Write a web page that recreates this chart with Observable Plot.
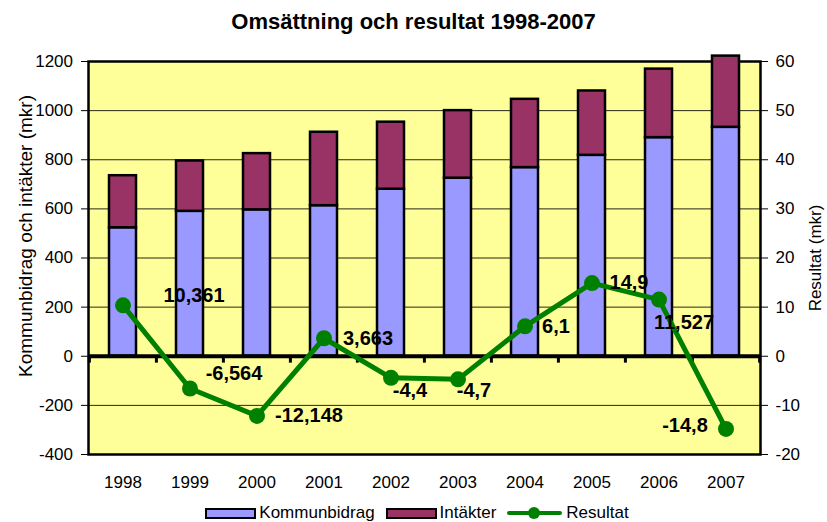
<!DOCTYPE html>
<html><head><meta charset="utf-8">
<script src="https://cdn.jsdelivr.net/npm/d3@7"></script>
<script src="https://cdn.jsdelivr.net/npm/@observablehq/plot@0.6"></script>
<style>
body{margin:0;background:#fff;font-family:"Liberation Sans",Arial,sans-serif;color:#000;}
#title{width:827px;height:44px;line-height:44px;text-align:center;font-weight:bold;font-size:22px;}
#chart{width:827px;height:446px;}
#legend{width:827px;box-sizing:border-box;padding-left:18px;display:flex;justify-content:center;align-items:center;height:24px;margin-top:11px;font-size:17px;}
.item{display:flex;align-items:center;margin-right:11px;}
.sw{width:47px;height:7px;border:2.5px solid #000;margin-right:3px;}
.ln{position:relative;width:55px;height:12px;margin-right:4px;}
.ln:before{content:"";position:absolute;left:0;right:0;top:4px;height:4px;background:#008000;border-radius:2px;}
.ln:after{content:"";position:absolute;left:21px;top:0;width:12px;height:12px;border-radius:50%;background:#008000;}
</style></head><body>
<div id="title">Omsättning och resultat 1998-2007</div>
<div id="chart"></div>
<div id="legend"></div>
<script>
// ---- data ----
const years = ["1998","1999","2000","2001","2002","2003","2004","2005","2006","2007"];
const kommunbidrag = [523, 590, 596, 613, 680, 725, 768, 818, 890, 932];
const intakter = [212, 205, 229, 299, 273, 275, 278, 262, 279, 290];
const resultat = [10.361, -6.564, -12.148, 3.663, -4.4, -4.7, 6.1, 14.9, 11.527, -14.8];
const leftTicks = [-400, -200, 0, 200, 400, 600, 800, 1000, 1200];
const rightTicks = [-20, -10, 0, 10, 20, 30, 40, 50, 60];
const seriesNames = ["Kommunbidrag", "Intäkter", "Resultat"];
const leftLabel = "Kommunbidrag och intäkter (mkr)";
const rightLabel = "Resultat (mkr)";

// ---- styling ----
const colors = ["#9999FF", "#993366", "#008000"];
const labelNudge = [[71,-10],[44,-15],[52,0],[44,0],[19,13],[16,11],[31,0],[37,0],[25,23],[-41,-3]];

const ratio = leftTicks[leftTicks.length-1] / rightTicks[rightTicks.length-1];
const fmt = v => String(v).replace(".", ",");

const bars = years.flatMap((year, i) => [
  {year, series: seriesNames[0], value: kommunbidrag[i]},
  {year, series: seriesNames[1], value: intakter[i]}
]);
const res = years.map((year, i) => ({year, r: resultat[i]}));

const W = 827, H = 446, mL = 88, mR = 67, mT = 17, mB = 36;
const step = (W - mL - mR) / years.length;

const chart = Plot.plot({
  width: W, height: H,
  marginLeft: mL, marginRight: mR, marginTop: mT, marginBottom: mB,
  style: {fontFamily: "Liberation Sans, Arial, sans-serif", fontSize: "17px", color: "#000", background: "transparent", overflow: "visible"},
  x: {domain: years, paddingInner: 0.6, paddingOuter: 0.3, label: null},
  y: {domain: [leftTicks[0], leftTicks[leftTicks.length-1]], label: null},
  color: {domain: seriesNames.slice(0,2), range: colors.slice(0,2)},
  marks: [
    Plot.frame({fill: "#FFFF99", stroke: null}),
    Plot.ruleY(leftTicks.filter(d => d !== 0), {stroke: "#000", strokeWidth: 1, strokeOpacity: 0.85}),
    Plot.frame({stroke: "#000", strokeWidth: 2.5}),
    Plot.axisY(leftTicks, {anchor: "left", tickSize: 7, tickPadding: 8.5, tickFormat: d => String(d), label: null, fontSize: 17}),
    Plot.axisY(rightTicks.map(v => v * ratio), {anchor: "right", tickSize: 7, tickPadding: 8, tickFormat: d => String(d / ratio), label: null, fontSize: 17}),
    Plot.axisX(years, {tickSize: 0, tickPadding: 21, label: null, fontSize: 17}),
    Plot.barY(bars, {x: "year", y: "value", fill: "series", stroke: "#000", strokeWidth: 2.5}),
    Plot.ruleY([0], {stroke: "#000", strokeWidth: 4}),
    Plot.ruleX(years, {x: d => d, y1: 0, y2: -28, dx: -step/2, stroke: "#000", strokeWidth: 3}),
    Plot.ruleX([years[years.length-1]], {x: d => d, y1: 0, y2: -28, dx: step/2, stroke: "#000", strokeWidth: 3}),
    Plot.line(res, {x: "year", y: d => d.r * ratio, stroke: colors[2], strokeWidth: 5}),
    Plot.dot(res, {x: "year", y: d => d.r * ratio, r: 8, fill: colors[2]}),
    ...res.map((d, i) => Plot.text([d], {x: "year", y: e => e.r * ratio, text: e => fmt(e.r), dx: labelNudge[i][0], dy: labelNudge[i][1], fontSize: 20, fontWeight: "bold", fill: "#000"})),
    Plot.text([leftLabel], {frameAnchor: "left", rotate: -90, textAnchor: "middle", dx: -63, dy: -22, fontSize: 19, fill: "#000"}),
    Plot.text([rightLabel], {frameAnchor: "right", rotate: -90, textAnchor: "middle", dx: 55, dy: 0, fontSize: 17, fill: "#000"})
  ]
});
document.getElementById("chart").appendChild(chart);

// ---- legend ----
const lg = document.getElementById("legend");
seriesNames.forEach((name, i) => {
  const it = document.createElement("div");
  it.className = "item";
  const sw = document.createElement("div");
  if (i < 2) { sw.className = "sw"; sw.style.background = colors[i]; }
  else { sw.className = "ln"; }
  const tx = document.createElement("span");
  tx.textContent = name;
  it.appendChild(sw); it.appendChild(tx);
  lg.appendChild(it);
});
</script>
</body></html>
